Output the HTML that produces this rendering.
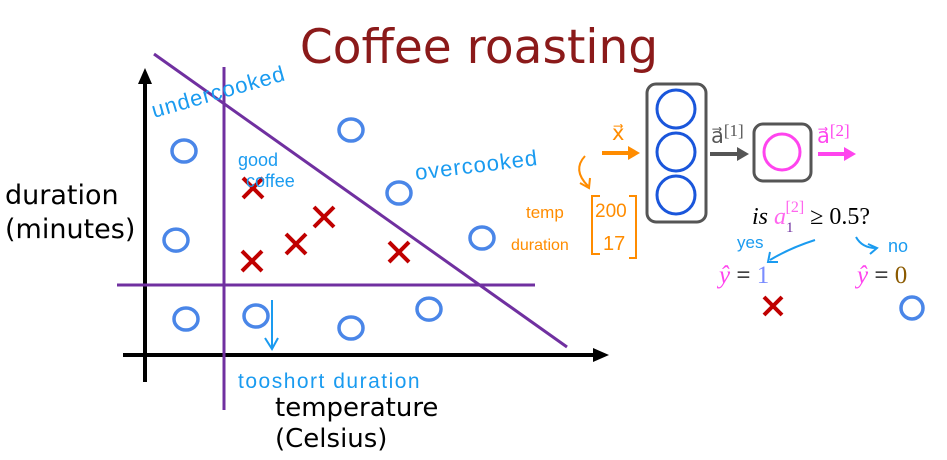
<!DOCTYPE html>
<html><head><meta charset="utf-8"><style>
body{margin:0;background:#fff;width:947px;height:460px;overflow:hidden}
svg{display:block}
.hand{font-family:"Liberation Sans",sans-serif;fill:#1a9bf0}
.or{font-family:"Liberation Sans",sans-serif;fill:#ff8c00}
</style></head><body>
<svg id="chart" width="947" height="460" viewBox="0 0 947 460">
<text x="479" y="63" text-anchor="middle" font-family="DejaVu Sans, sans-serif" font-size="47" fill="#8b1a1a">Coffee roasting</text>
<g id="axes">
<line x1="145" y1="382" x2="145" y2="78" stroke="#000" stroke-width="4"/>
<path d="M145,68 L138,84 L152,84 z" fill="#000"/>
<line x1="123" y1="355" x2="598" y2="355" stroke="#000" stroke-width="4"/>
<path d="M609,355 L593,348 L593,362 z" fill="#000"/>
</g>
<text font-family="DejaVu Sans, sans-serif" font-size="27" fill="#000"><tspan x="5" y="204">duration</tspan><tspan x="5" y="238">(minutes)</tspan></text>
<text font-family="DejaVu Sans, sans-serif" font-size="26" fill="#000"><tspan x="275" y="416">temperature</tspan><tspan x="275" y="447">(Celsius)</tspan></text>
<g id="bounds">
<line x1="224" y1="67" x2="224" y2="410" stroke="#7030a0" stroke-width="3"/>
<line x1="117" y1="285" x2="535" y2="285" stroke="#7030a0" stroke-width="3"/>
<line x1="154" y1="54" x2="567" y2="347" stroke="#7030a0" stroke-width="3"/>
</g>
<g id="marks"></g>
<g>
<text class="hand" x="154" y="118" font-size="22" letter-spacing="1" transform="rotate(-16 154 118)">undercooked</text>
<text class="hand" font-size="18"><tspan x="238" y="166">good</tspan><tspan x="246" y="187">coffee</tspan></text>
<text class="hand" x="416" y="180" font-size="22" letter-spacing="1" transform="rotate(-7 416 180)">overcooked</text>
<text class="hand" x="238" y="388" font-size="21" letter-spacing="1.5">tooshort duration</text>
<path d="M272,300 L272,348 M265,338 L272,349 L278,338" stroke="#1a9bf0" stroke-width="2" fill="none"/>
</g>
<g>
<rect x="647" y="84" width="59" height="138" rx="9" fill="none" stroke="#555" stroke-width="3"/>
<circle cx="676" cy="109" r="19" fill="none" stroke="#1a56db" stroke-width="3"/>
<circle cx="676" cy="152" r="19" fill="none" stroke="#1a56db" stroke-width="3"/>
<circle cx="676" cy="195" r="19" fill="none" stroke="#1a56db" stroke-width="3"/>
<rect x="754" y="124" width="57" height="57" rx="9" fill="none" stroke="#555" stroke-width="3"/>
<circle cx="782" cy="152" r="18" fill="none" stroke="#ff44ee" stroke-width="3"/>
<line x1="602" y1="153" x2="630" y2="153" stroke="#ff8c00" stroke-width="4"/>
<path d="M640,153 L628,146 L628,160 z" fill="#ff8c00"/>
<line x1="710" y1="154" x2="738" y2="154" stroke="#555" stroke-width="4"/>
<path d="M749,154 L737,147 L737,161 z" fill="#555"/>
<line x1="818" y1="154" x2="846" y2="154" stroke="#ff44ee" stroke-width="4"/>
<path d="M856,154 L844,147 L844,161 z" fill="#ff44ee"/>
<text x="612" y="140" font-family="Liberation Serif, serif" font-size="21" fill="#ff8c00">x⃗</text>
<text x="711" y="143" font-family="Liberation Serif, serif" font-size="21" fill="#555">a⃗<tspan font-size="17" dy="-7">[1]</tspan></text>
<text x="817" y="143" font-family="Liberation Serif, serif" font-size="21" fill="#ff44ee">a⃗<tspan font-size="17" dy="-7">[2]</tspan></text>
<path d="M585,156 Q572,170 588,186 M580,183 L589,188 L590,178" stroke="#ff8c00" stroke-width="2" fill="none"/>
<text class="or" x="526" y="218" font-size="17">temp</text>
<text class="or" x="511" y="250" font-size="16">duration</text>
<path d="M600,196 L592,196 L592,254 L600,254 M629,196 L636,196 L636,258 L629,258" stroke="#ff8c00" stroke-width="2" fill="none"/>
<text class="or" x="595" y="217" font-size="19">200</text>
<text class="or" x="603" y="250" font-size="20">17</text>
<text x="752" y="224" font-family="Liberation Serif, serif" font-size="24" fill="#000"><tspan font-style="italic">is </tspan><tspan font-style="italic" fill="#ff66ee">a</tspan><tspan font-size="15" dy="8" fill="#7030a0">1</tspan><tspan font-size="16" dy="-20" dx="-8" fill="#ff66ee">[2]</tspan><tspan dy="12"> ≥ 0.5?</tspan></text>
<text class="hand" x="737" y="248" font-size="17">yes</text>
<path d="M815,240 Q790,248 770,260 M770,252 L768,262 L778,262" stroke="#1a9bf0" stroke-width="2" fill="none"/>
<path d="M856,237 Q862,248 876,248 M868,244 L877,248 L870,254" stroke="#1a9bf0" stroke-width="2" fill="none"/>
<text class="hand" x="888" y="252" font-size="18">no</text>
<text x="719" y="283" font-family="Liberation Serif, serif" font-size="25"><tspan fill="#ff44ee" font-style="italic">ŷ</tspan><tspan fill="#000"> = </tspan><tspan fill="#7a8cff">1</tspan></text>
<text x="857" y="283" font-family="Liberation Serif, serif" font-size="25"><tspan fill="#ff44ee" font-style="italic">ŷ</tspan><tspan fill="#000"> = </tspan><tspan fill="#8b5a00">0</tspan></text>
<path d="M764,297 L782,315 M782,297 L764,315" stroke="#c00000" stroke-width="4"/>
<circle cx="912" cy="308" r="11" fill="none" stroke="#4a86e8" stroke-width="3.5"/>
</g>
</svg>
<script>
const circleTemp=[9.75,7.75,10.25,51.5,63.5,84.25,27.75,51.5,71];
const circleDur=[68,38.3,12,75,54,39,13,9,15.3];
const crossTemp=[27,44.75,37.75,26.75,63.5];
const crossDur=[55.7,46,37,31.3,34.3];
const xs=v=>145+v*4, ys=v=>355-v*3;
const g=document.getElementById('marks'), NS='http://www.w3.org/2000/svg';
circleTemp.forEach((t,i)=>{
 const c=document.createElementNS(NS,'ellipse');
 c.setAttribute('cx',xs(t));c.setAttribute('cy',ys(circleDur[i]));
 c.setAttribute('rx',12);c.setAttribute('ry',11);
 c.setAttribute('fill','none');c.setAttribute('stroke','#4a86e8');c.setAttribute('stroke-width','3.5');
 
 
 g.appendChild(c);
});
crossTemp.forEach((t,i)=>{
 const x=xs(t),y=ys(crossDur[i]);
 const p=document.createElementNS(NS,'path');
 p.setAttribute('d',`M${x-10},${y-10} L${x+10},${y+10} M${x+10},${y-10} L${x-10},${y+10}`);
 p.setAttribute('stroke','#c00000');p.setAttribute('stroke-width','4');
 
 
 g.appendChild(p);
});
</script>
</body></html>
